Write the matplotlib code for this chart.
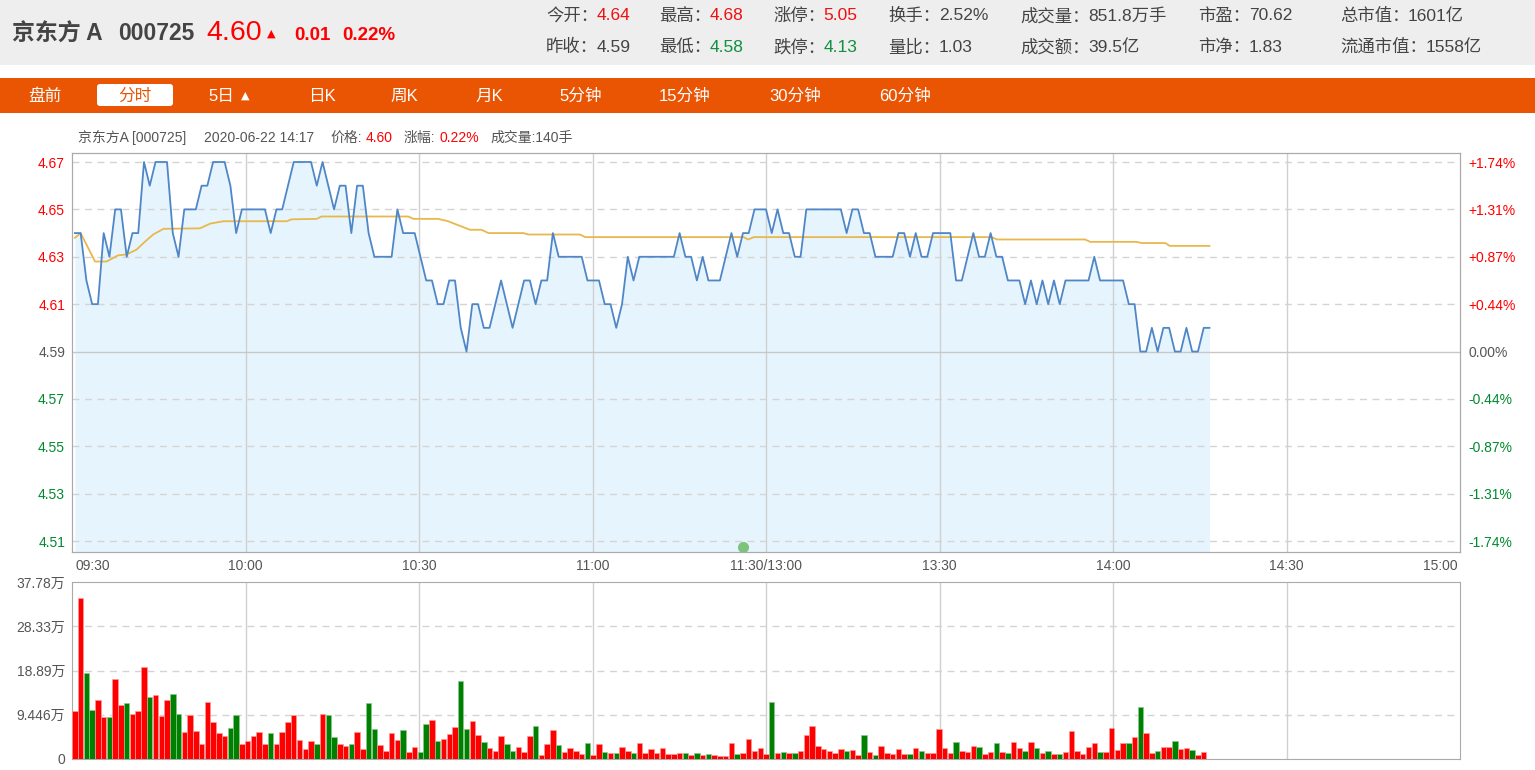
import matplotlib
matplotlib.use("Agg")
import matplotlib.pyplot as plt
from matplotlib.patches import Rectangle, FancyBboxPatch
from matplotlib.transforms import blended_transform_factory

plt.rcParams['font.family'] = ['Liberation Sans', 'Noto Sans CJK SC', 'DejaVu Sans']

# ---- data (京东方A 000725, 2020-06-22) ----
prev_close = 4.59

price = [4.64, 4.64, 4.62, 4.61, 4.61, 4.64, 4.63, 4.65, 4.65, 4.63,
         4.64, 4.64, 4.67, 4.66, 4.67, 4.67, 4.67, 4.64, 4.63, 4.65,
         4.65, 4.65, 4.66, 4.66, 4.67, 4.67, 4.67, 4.66, 4.64, 4.65,
         4.65, 4.65, 4.65, 4.65, 4.64, 4.65, 4.65, 4.66, 4.67, 4.67,
         4.67, 4.67, 4.66, 4.67, 4.66, 4.65, 4.66, 4.66, 4.64, 4.66,
         4.66, 4.64, 4.63, 4.63, 4.63, 4.63, 4.65, 4.64, 4.64, 4.64,
         4.63, 4.62, 4.62, 4.61, 4.61, 4.62, 4.62, 4.60, 4.59, 4.61,
         4.61, 4.60, 4.60, 4.61, 4.62, 4.61, 4.60, 4.61, 4.62, 4.62,
         4.61, 4.62, 4.62, 4.64, 4.63, 4.63, 4.63, 4.63, 4.63, 4.62,
         4.62, 4.62, 4.61, 4.61, 4.60, 4.61, 4.63, 4.62, 4.63, 4.63,
         4.63, 4.63, 4.63, 4.63, 4.63, 4.64, 4.63, 4.63, 4.62, 4.63,
         4.62, 4.62, 4.62, 4.63, 4.64, 4.63, 4.64, 4.64, 4.65, 4.65,
         4.65, 4.64, 4.65, 4.64, 4.64, 4.63, 4.63, 4.65, 4.65, 4.65,
         4.65, 4.65, 4.65, 4.65, 4.64, 4.65, 4.65, 4.64, 4.64, 4.63,
         4.63, 4.63, 4.63, 4.64, 4.64, 4.63, 4.64, 4.63, 4.63, 4.64,
         4.64, 4.64, 4.64, 4.62, 4.62, 4.63, 4.64, 4.63, 4.63, 4.64,
         4.63, 4.63, 4.62, 4.62, 4.62, 4.61, 4.62, 4.61, 4.62, 4.61,
         4.62, 4.61, 4.62, 4.62, 4.62, 4.62, 4.62, 4.63, 4.62, 4.62,
         4.62, 4.62, 4.62, 4.61, 4.61, 4.59, 4.59, 4.60, 4.59, 4.60,
         4.60, 4.59, 4.59, 4.60, 4.59, 4.59, 4.60, 4.60]

# average price line, read as breakpoints (minute index, price)
avg_idx = [0, 1, 3.5, 5.5, 7.5, 9, 10.7, 12, 13.6, 15.4, 21.7, 23.5, 25.8, 36.8, 37.6,
           42, 42.8, 57.9, 58.8, 63.1, 64.8, 68.6, 70.6, 71.8, 77.9, 78.7, 87.7, 88.6,
           116.1, 116.9, 117.9, 159.2, 160.1, 175.4, 176.3, 184.4, 185.2, 189.3, 190.1, 197]
avg_val = [4.638, 4.640, 4.628, 4.628, 4.6306, 4.631, 4.633, 4.636, 4.6394, 4.6418, 4.642,
           4.644, 4.645, 4.645, 4.6458, 4.646, 4.647, 4.647, 4.646, 4.646, 4.645, 4.6414,
           4.6414, 4.640, 4.640, 4.6394, 4.6394, 4.6383, 4.6383, 4.6373, 4.6383, 4.6383,
           4.6373, 4.6373, 4.6363, 4.6363, 4.6358, 4.6358, 4.6346, 4.6346]

# volume per minute, in 万手
volume = [10.2, 34.4, 18.3, 10.4, 12.6, 8.9, 9.0, 17.0, 11.5, 11.9,
          9.6, 10.3, 19.7, 13.3, 13.6, 9.2, 12.5, 13.8, 9.6, 5.7,
          9.4, 6.0, 3.3, 12.1, 7.9, 5.5, 5.0, 6.7, 9.3, 3.3,
          3.9, 4.9, 5.7, 3.1, 5.5, 3.3, 5.7, 7.9, 9.4, 4.1,
          2.1, 3.9, 3.1, 9.7, 9.3, 4.6, 3.3, 2.7, 3.1, 5.8,
          2.1, 11.9, 6.3, 2.9, 1.8, 5.5, 4.0, 6.2, 1.5, 2.6,
          1.6, 7.5, 8.4, 3.8, 4.3, 5.3, 6.9, 16.6, 6.4, 8.1,
          5.2, 3.6, 2.3, 1.8, 4.9, 3.1, 1.8, 2.5, 1.4, 4.9,
          7.1, 0.8, 3.2, 6.2, 3.0, 1.6, 2.3, 1.8, 1.1, 3.4,
          0.8, 3.3, 1.5, 1.3, 1.3, 2.5, 1.8, 1.2, 3.5, 1.2,
          2.1, 1.3, 2.4, 1.1, 1.1, 1.2, 1.3, 0.9, 1.3, 0.9,
          1.0, 0.9, 0.7, 0.7, 3.5, 1.0, 1.3, 4.3, 1.8, 2.3,
          1.1, 12.1, 1.2, 1.5, 1.2, 1.3, 1.8, 5.1, 7.1, 2.7,
          2.1, 1.8, 1.3, 2.1, 1.7, 1.9, 0.8, 5.1, 1.6, 0.8,
          2.8, 1.3, 1.1, 2.1, 1.1, 1.1, 2.3, 1.8, 1.2, 1.2,
          6.3, 2.3, 1.3, 3.6, 1.8, 1.6, 2.8, 2.5, 1.1, 1.6,
          3.4, 1.4, 1.3, 3.6, 2.3, 1.7, 3.7, 2.4, 1.2, 1.7,
          1.1, 1.1, 1.6, 6.0, 1.8, 1.1, 2.6, 3.5, 1.4, 1.4,
          6.6, 1.9, 3.4, 3.4, 4.6, 11.2, 5.5, 1.3, 1.8, 2.6,
          2.5, 3.8, 2.1, 2.3, 1.9, 0.9, 1.5]
# r = up bar (red), g = down bar (green)
vol_dir = ("rrggrrgrrg" "rrrgrrrggr" "rrrrrrrggr" "rrrrgrrrrr" "rrgrggrrgr"
           "rggrrrrgrr" "ggrgrrrggr" "rgrrrggrrr" "grrrgrrrrg" "rrgrgrrgrr"
           "rrrrrrgrgr" "grrrrgrrrr" "rgrgrgrrrr" "rrrrgrrgrg" "rrrrrgrgrr"
           "rrrgrrrgrr" "grgrrgrgrg" "rgrrrrrrgr" "rrrgrgrrgr" "rgrrgrr")

price_ticks = [4.51, 4.53, 4.55, 4.57, 4.59, 4.61, 4.63, 4.65, 4.67]
pct_labels = ['-1.74%', '-1.31%', '-0.87%', '-0.44%', '0.00%', '+0.44%', '+0.87%', '+1.31%', '+1.74%']
vol_ticks = [0, 9.446, 18.89, 28.33, 37.78]
vol_labels = ['0', '9.446万', '18.89万', '28.33万', '37.78万']
time_labels = ['09:30', '10:00', '10:30', '11:00', '11:30/13:00', '13:30', '14:00', '14:30', '15:00']
n_slots = 241
event_idx = 116  # green marker under the price chart

stat_row1 = [('今开', '4.64', 'r'), ('最高', '4.68', 'r'), ('涨停', '5.05', 'r'), ('换手', '2.52%', 'k'),
             ('成交量', '851.8万手', 'k'), ('市盈', '70.62', 'k'), ('总市值', '1601亿', 'k')]
stat_row2 = [('昨收', '4.59', 'k'), ('最低', '4.58', 'g'), ('跌停', '4.13', 'g'), ('量比', '1.03', 'k'),
             ('成交额', '39.5亿', 'k'), ('市净', '1.83', 'k'), ('流通市值', '1558亿', 'k')]
tabs = ['盘前', '分时', '5日', '日K', '周K', '月K', '5分钟', '15分钟', '30分钟', '60分钟']

RED = '#ff0000'
GREEN = '#008a2e'
GRAY = '#555555'
col = {'r': '#f01010', 'g': '#109040', 'k': '#444444'}

W, H = 1535, 770
fig = plt.figure(figsize=(W / 100, H / 100), dpi=100)

# background layer in pixel coordinates
bg = fig.add_axes([0, 0, 1, 1])
bg.set_xlim(0, W)
bg.set_ylim(H, 0)
bg.axis('off')
bg.add_patch(Rectangle((0, 0), W, 65, color='#eeeeee', lw=0))
bg.add_patch(Rectangle((0, 78), W, 35, color='#ea5504', lw=0))

# header
bg.text(12, 34, '京东方 A', fontsize=16.5, weight='bold', color='#444444', va='center')
bg.text(118, 34, '000725', fontsize=16.5, weight='bold', color='#444444', va='center')
bg.text(206, 33, '4.60', fontsize=20.5, color=RED, va='center')
bg.text(267, 34, '▲', fontsize=8, color=RED, va='center', family='DejaVu Sans')
bg.text(294, 35, '0.01', fontsize=13.5, weight='bold', color=RED, va='center')
bg.text(342, 35, '0.22%', fontsize=13.5, weight='bold', color=RED, va='center')

stat_x = [546, 659, 773, 888, 1020, 1198, 1340]
for row, y in ((stat_row1, 16), (stat_row2, 47)):
    for (lab, val, c), x in zip(row, stat_x):
        t = bg.text(x, y, lab + '：', fontsize=12.5, color='#444444', va='center')
        bg.annotate(val, xy=(1, 0.5), xycoords=t, xytext=(-1, 0), textcoords='offset points',
                    fontsize=12.5, color=col[c], va='center')

# tab bar
tab_x = [28, 118, 208, 308, 390, 475, 559, 659, 769, 879]
bg.add_patch(FancyBboxPatch((97, 84), 76, 22, boxstyle='round,pad=0,rounding_size=3',
                            fc='white', ec='none'))
for lab, x in zip(tabs, tab_x):
    c = '#ea5504' if lab == '分时' else 'white'
    bg.text(x, 96, lab, fontsize=12, color=c, va='center')
bg.text(241, 96, '▲', fontsize=8, color='white', va='center', family='DejaVu Sans')

# info line above the chart
info = [(78, '京东方A [000725]', GRAY), (204, '2020-06-22 14:17', GRAY), (330, '价格:', GRAY),
        (366, '4.60', RED), (404, '涨幅:', GRAY), (439, '0.22%', RED), (490, '成交量:140手', GRAY)]
for x, s, c in info:
    bg.text(x, 138, s, fontsize=10, color=c, va='center')

# ---- price chart ----
idx = list(range(len(price)))
ax1 = fig.add_axes([72 / W, 1 - 552 / H, 1388 / W, 399 / H])
ylo, yhi = 4.5054, 4.6738
ax1.set_xlim(-0.5, n_slots - 0.5)
ax1.set_ylim(ylo, yhi)
ax1.fill_between(idx, price, ylo, color='#e6f5fd', lw=0, zorder=1)
grid_x = [-0.5 + k * n_slots / 8 for k in range(9)]
for gx in grid_x[1:-1]:
    ax1.axvline(gx, color='#d0d0d0', lw=1, zorder=2)
for lv in price_ticks:
    if lv == prev_close:
        ax1.axhline(lv, color='#c8c8c8', lw=1, zorder=2)
    else:
        ax1.axhline(lv, color='#d4d4d4', lw=1, ls=(0, (5, 4)), zorder=2)
ax1.plot(idx, price, color='#4f86c8', lw=1.3, zorder=4)
ax1.plot(avg_idx, avg_val, color='#e8b84c', lw=1.3, zorder=3)
ax1.plot([event_idx], [ylo + 0.0023], 'o', ms=7, color='#7cc47c', zorder=5, clip_on=False)

ax1.set_yticks(price_ticks)
ax1.set_yticklabels([f'{v:.2f}' for v in price_ticks], fontsize=10)
for lab, v in zip(ax1.get_yticklabels(), price_ticks):
    lab.set_color(RED if v > prev_close else (GRAY if v == prev_close else GREEN))
ax1.tick_params(axis='y', length=0, pad=5)
ax1.set_xticks([])
for s in ax1.spines.values():
    s.set_color('#aaaaaa')

axr = ax1.twinx()
axr.set_ylim(ylo, yhi)
axr.set_yticks(price_ticks)
axr.set_yticklabels(pct_labels, fontsize=10)
for lab, v in zip(axr.get_yticklabels(), price_ticks):
    lab.set_color(RED if v > prev_close else (GRAY if v == prev_close else GREEN))
axr.tick_params(axis='y', length=0, pad=6)
for s in axr.spines.values():
    s.set_color('#aaaaaa')

trans = blended_transform_factory(ax1.transData, ax1.transAxes)
for k, (gx, lab) in enumerate(zip(grid_x, time_labels)):
    ha = 'left' if k == 0 else ('right' if k == 8 else 'center')
    off = 0.6 if k == 0 else (-0.4 if k == 8 else 0)
    ax1.text(gx + off, -0.034, lab, transform=trans, ha=ha, va='center', fontsize=10, color=GRAY)

# ---- volume chart ----
ax2 = fig.add_axes([72 / W, 1 - 759 / H, 1388 / W, 177 / H])
ax2.set_xlim(-0.5, n_slots - 0.5)
ax2.set_ylim(0, vol_ticks[-1])
for gx in grid_x[1:-1]:
    ax2.axvline(gx, color='#d0d0d0', lw=1, zorder=1)
for lv in vol_ticks[1:-1]:
    ax2.axhline(lv, color='#d4d4d4', lw=1, ls=(0, (5, 4)), zorder=1)
vidx = list(range(len(volume)))
fc = [RED if d == 'r' else '#008000' for d in vol_dir]
ec = ['#ff9a9a' if d == 'r' else '#8cc88c' for d in vol_dir]
ax2.bar(vidx, volume, width=0.95, color=fc, edgecolor=ec, lw=0.5, zorder=3)
ax2.set_yticks(vol_ticks)
ax2.set_yticklabels(vol_labels, fontsize=10, color=GRAY)
ax2.tick_params(axis='y', length=0, pad=5)
ax2.set_xticks([])
for s in ax2.spines.values():
    s.set_color('#aaaaaa')

fig.savefig('out.png', dpi=100)
